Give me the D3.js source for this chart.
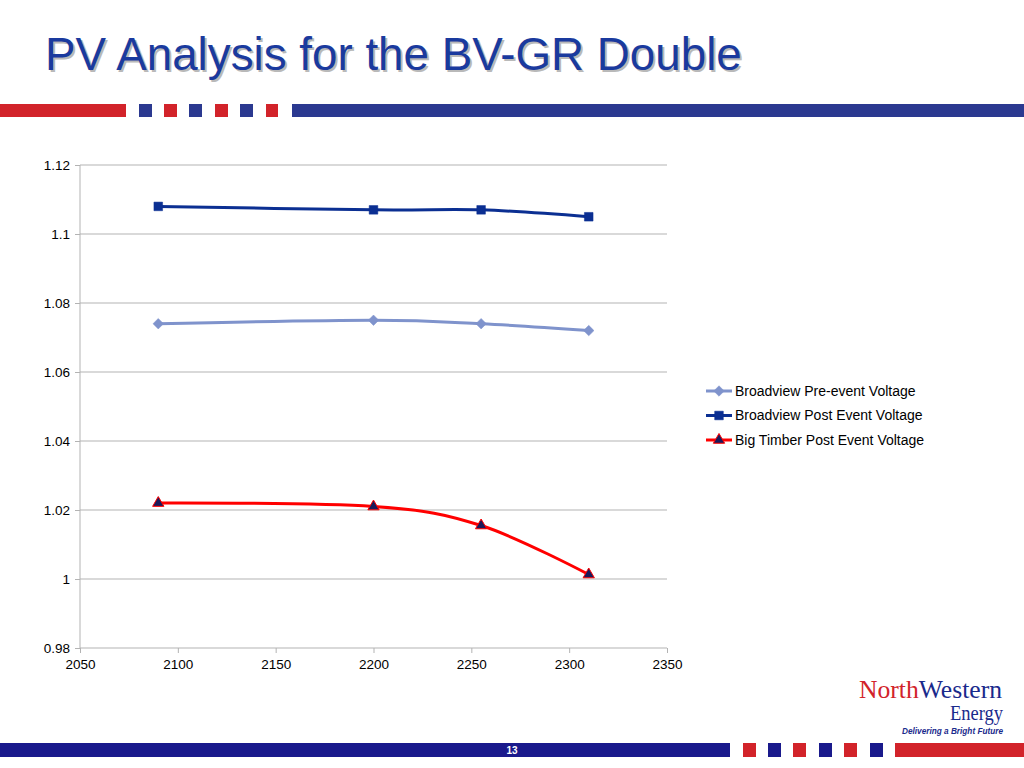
<!DOCTYPE html>
<html lang="en">
<head>
<meta charset="UTF-8">
<title>PV Analysis for the BV-GR Double</title>
<style>
  html, body { margin: 0; padding: 0; background: #fff; }
  svg { display: block; }
  .axis text { font: 13.5px "Liberation Sans", Arial, sans-serif; fill: #000; }
  .legend text { font: 14px "Liberation Sans", Arial, sans-serif; fill: #000; }
</style>
</head>
<body>
<svg width="1024" height="768"></svg>
<script src="https://d3js.org/d3.v7.min.js"></script>
<script>
// Data
const mw = [2090, 2200, 2255, 2310];
const preEvent = [1.074, 1.075, 1.074, 1.072];
const postEvent = [1.108, 1.107, 1.107, 1.105];
const bigTimber = [1.022, 1.021, 1.0155, 1.0013];
const seriesNames = ["Broadview Pre-event Voltage", "Broadview Post Event Voltage", "Big Timber Post Event Voltage"];
const xTicks = [2050, 2100, 2150, 2200, 2250, 2300, 2350];
const yTicks = [0.98, 1, 1.02, 1.04, 1.06, 1.08, 1.1, 1.12];

const svg = d3.select("svg");
const RED = "#d2232a", NAVY = "#2b3990";

// ---- title ----
const title = svg.append("g");
const titleText = "PV Analysis for the BV-GR Double";
title.append("text")
    .attr("x", 47).attr("y", 72)
    .attr("fill", "#a8a8a8")
    .attr("opacity", 0.8)
    .style("font", "46px 'Liberation Sans', Arial, sans-serif")
    .text(titleText);
title.append("text")
    .attr("x", 45).attr("y", 70)
    .attr("fill", "#1a3a9e")
    .style("font", "46px 'Liberation Sans', Arial, sans-serif")
    .text(titleText);
// fit title width to the reference
title.selectAll("text").each(function() {
  const w = this.getComputedTextLength();
  d3.select(this).style("font-size", (46 * 697 / w) + "px");
});

// ---- decorative bars ----
function stripe(y, h, pieces) {
  pieces.forEach(p => svg.append("rect")
      .attr("x", p[0]).attr("y", y).attr("width", p[1] - p[0]).attr("height", h)
      .attr("fill", p[2]));
}
stripe(104, 13, [
  [0, 126, RED], [139, 152, NAVY], [164, 177, RED], [189, 202, NAVY],
  [215, 228, RED], [240, 253, NAVY], [266, 278, RED], [292, 1024, NAVY]
]);
stripe(743, 14, [
  [0, 730, "#1a1a8c"], [743, 756, RED], [768, 781, "#1a1a8c"], [793, 806, RED],
  [819, 832, "#1a1a8c"], [844, 857, RED], [870, 883, "#1a1a8c"], [895, 1024, RED]
]);
svg.append("text")
    .attr("x", 512).attr("y", 754)
    .attr("text-anchor", "middle")
    .attr("fill", "#fff")
    .style("font", "bold 10px 'Liberation Sans', Arial, sans-serif")
    .text("13");

// ---- logo ----
const logo = svg.append("g");
const nw = logo.append("text")
    .attr("x", 859).attr("y", 698)
    .attr("textLength", 143)
    .attr("lengthAdjust", "spacingAndGlyphs")
    .style("font", "25px 'Liberation Serif', 'Times New Roman', serif");
nw.append("tspan").attr("fill", RED).text("North");
nw.append("tspan").attr("fill", "#1a2a8c").text("Western");
logo.append("text")
    .attr("x", 950).attr("y", 720)
    .attr("textLength", 53)
    .attr("lengthAdjust", "spacingAndGlyphs")
    .attr("fill", "#1a2a8c")
    .style("font", "21px 'Liberation Serif', 'Times New Roman', serif")
    .text("Energy");
logo.append("text")
    .attr("x", 902).attr("y", 734)
    .attr("textLength", 101)
    .attr("lengthAdjust", "spacingAndGlyphs")
    .attr("fill", "#1a2a8c")
    .style("font", "italic bold 8.5px 'Liberation Sans', Arial, sans-serif")
    .text("Delivering a Bright Future");

// ---- chart ----
const x = d3.scaleLinear().domain([2050, 2350]).range([80, 667]);
const y = d3.scaleLinear().domain([0.98, 1.12]).range([648, 165]);

svg.append("g").selectAll("line")
  .data(yTicks.slice(1))
  .join("line")
    .attr("x1", x(2050)).attr("x2", x(2350))
    .attr("y1", d => y(d)).attr("y2", d => y(d))
    .attr("stroke", "#b3b3b3").attr("stroke-width", 1);

const yAxis = svg.append("g").attr("class", "axis")
    .attr("transform", `translate(${x(2050)},0)`)
    .call(d3.axisLeft(y).tickValues(yTicks).tickSize(5).tickPadding(5)
      .tickFormat(d => String(+d.toFixed(2))));
const xAxis = svg.append("g").attr("class", "axis")
    .attr("transform", `translate(0,${y(0.98)})`)
    .call(d3.axisBottom(x).tickValues(xTicks).tickSize(5).tickPadding(6)
      .tickFormat(d3.format("d")));
[yAxis, xAxis].forEach(a => {
  a.select(".domain").attr("stroke", "#b3b3b3");
  a.selectAll(".tick line").attr("stroke", "#b3b3b3");
});
xAxis.select(".domain").attr("d", `M${x(2050)},0H${x(2350)}`);
yAxis.select(".domain").attr("d", `M0,${y(0.98)}V${y(1.12)}`);

const line = d3.line()
    .x((d, i) => x(mw[i]))
    .y(d => y(d))
    .curve(d3.curveCardinal.tension(0));

const series = [
  { name: seriesNames[0], values: preEvent, color: "#7f93cc", marker: "diamond", mfill: "#7f93cc", mstroke: "#7f93cc" },
  { name: seriesNames[1], values: postEvent, color: "#0b2f92", marker: "square", mfill: "#0b2f92", mstroke: "#0b2f92" },
  { name: seriesNames[2], values: bigTimber, color: "#ff0000", marker: "triangle", mfill: "#1a1a5a", mstroke: "#ff0000" }
];

const symbolOf = {
  diamond: d3.symbol().type(d3.symbolDiamond2).size(70),
  square: d3.symbol().type(d3.symbolSquare2).size(95),
  triangle: d3.symbol().type(d3.symbolTriangle).size(55)
};

const plot = svg.append("g");
series.forEach(s => {
  plot.append("path")
      .attr("d", line(s.values))
      .attr("fill", "none")
      .attr("stroke", s.color)
      .attr("stroke-width", 3)
      .attr("stroke-linecap", "round");
  plot.selectAll(null)
    .data(s.values)
    .join("path")
      .attr("transform", (d, i) => `translate(${x(mw[i])},${y(d)})`)
      .attr("d", symbolOf[s.marker])
      .attr("fill", s.mfill)
      .attr("stroke", s.mstroke)
      .attr("stroke-width", s.marker === "triangle" ? 1 : 0.5);
});

// ---- legend ----
const legend = svg.append("g").attr("class", "legend")
    .attr("transform", "translate(706,391)");
const item = legend.selectAll("g")
  .data(series)
  .join("g")
    .attr("transform", (d, i) => `translate(0,${i * 24.5})`);
item.append("line")
    .attr("x1", 0).attr("x2", 26)
    .attr("stroke", d => d.color).attr("stroke-width", 3);
item.append("path")
    .attr("transform", "translate(13,0)")
    .attr("d", d => symbolOf[d.marker]())
    .attr("fill", d => d.mfill)
    .attr("stroke", d => d.mstroke)
    .attr("stroke-width", d => d.marker === "triangle" ? 1 : 0.5);
item.append("text")
    .attr("x", 29).attr("dy", "0.35em")
    .text(d => d.name);
</script>
</body>
</html>
